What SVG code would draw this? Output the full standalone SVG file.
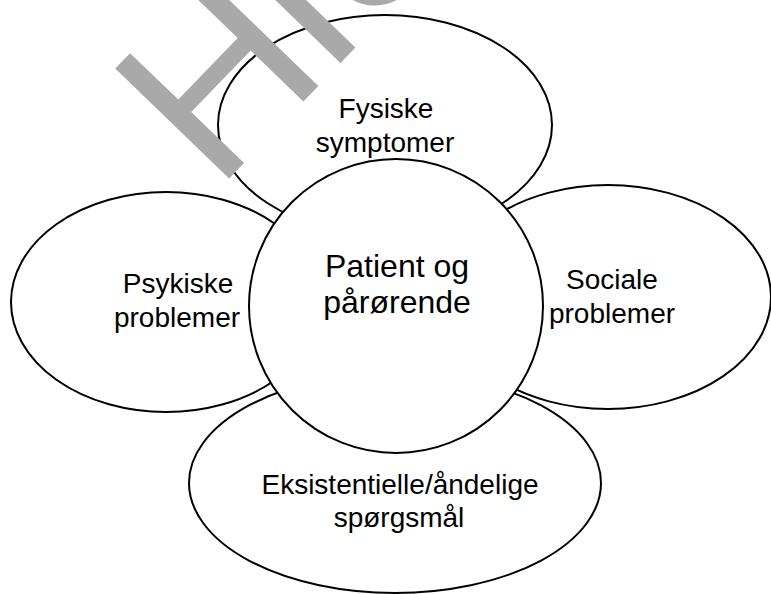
<svg xmlns="http://www.w3.org/2000/svg" width="771" height="594" viewBox="0 0 771 594">
<style>
.shape{fill:#ffffff;stroke:#000000;stroke-width:2}
.lbl{font-family:"Liberation Sans",Arial,sans-serif;font-size:28px;fill:#000000;text-anchor:middle}
.big{font-size:32px}
.wm{font-family:"Liberation Sans",Arial,sans-serif;font-size:230px;fill:#a9a9a9}
</style>
<rect width="771" height="594" fill="#ffffff"/>
<g id="connectors"></g>
<g id="node-fysiske">
<ellipse class="shape" cx="385" cy="125" rx="167" ry="110"/>
</g>
<g id="node-psykiske">
<ellipse class="shape" cx="166" cy="302" rx="155" ry="110"/>
</g>
<g id="node-sociale">
<ellipse class="shape" cx="608" cy="297" rx="163" ry="112"/>
</g>
<g id="node-eksistentielle">
<ellipse class="shape" cx="395" cy="483" rx="206" ry="110"/>
</g>
<g id="node-patient">
<circle class="shape" cx="396" cy="306" r="147"/>
<text class="lbl big" x="397" y="277">Patient og</text>
<text class="lbl big" x="397" y="313">pårørende</text>
</g>
<g id="labels">
<text class="lbl" x="386" y="118">Fysiske</text>
<text class="lbl" x="385" y="152">symptomer</text>
<text class="lbl" x="178" y="293">Psykiske</text>
<text class="lbl" x="177" y="327">problemer</text>
<text class="lbl" x="612" y="289">Sociale</text>
<text class="lbl" x="612" y="323">problemer</text>
<text class="lbl" x="400" y="494">Eksistentielle/åndelige</text>
<text class="lbl" x="399" y="527">spørgsmål</text>
</g>
<g id="watermark">
<text class="wm" x="216" y="192" transform="rotate(-46 216 192)">H<tspan dx="-8">I</tspan>S</text>
</g>
</svg>
